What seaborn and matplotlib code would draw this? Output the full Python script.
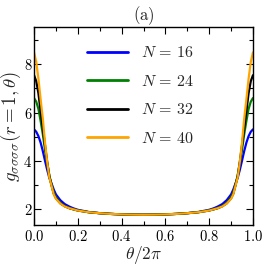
import matplotlib
matplotlib.use("Agg")
import matplotlib.pyplot as plt
import seaborn as sns
import pandas as pd
from matplotlib.ticker import MultipleLocator, FuncFormatter

theta = [0.00, 0.01, 0.02, 0.03, 0.04, 0.05, 0.06, 0.07, 0.08, 0.09, 0.10,
         0.12, 0.14, 0.16, 0.18, 0.20, 0.25, 0.30, 0.35, 0.40, 0.45, 0.50,
         0.55, 0.60, 0.65, 0.70, 0.75, 0.80, 0.82, 0.84, 0.86, 0.88,
         0.90, 0.91, 0.92, 0.93, 0.94, 0.95, 0.96, 0.97, 0.98, 0.99, 1.00]

g_N16 = [5.30, 5.20, 5.02, 4.75, 4.40, 4.00, 3.62, 3.28, 3.05, 2.80, 2.60,
         2.36, 2.20, 2.10, 2.02, 1.96, 1.87, 1.82, 1.79, 1.77, 1.76, 1.755,
         1.76, 1.77, 1.79, 1.82, 1.87, 1.96, 2.02, 2.10, 2.20, 2.36,
         2.60, 2.80, 3.05, 3.28, 3.62, 4.00, 4.40, 4.75, 5.02, 5.20, 5.30]
g_N24 = [6.60, 6.45, 6.15, 5.65, 5.10, 4.45, 3.90, 3.38, 3.00, 2.68, 2.48,
         2.25, 2.12, 2.04, 1.98, 1.94, 1.86, 1.82, 1.79, 1.77, 1.76, 1.755,
         1.76, 1.77, 1.79, 1.82, 1.86, 1.94, 1.98, 2.04, 2.12, 2.25,
         2.48, 2.68, 3.00, 3.38, 3.90, 4.45, 5.10, 5.65, 6.15, 6.45, 6.60]
g_N32 = [7.55, 7.30, 6.80, 6.05, 5.35, 4.65, 3.95, 3.35, 2.97, 2.63, 2.44,
         2.23, 2.11, 2.03, 1.98, 1.93, 1.86, 1.82, 1.79, 1.77, 1.76, 1.755,
         1.76, 1.77, 1.79, 1.82, 1.86, 1.93, 1.98, 2.03, 2.11, 2.23,
         2.44, 2.63, 2.97, 3.35, 3.95, 4.65, 5.35, 6.05, 6.80, 7.30, 7.55]
g_N40 = [8.50, 8.10, 7.40, 6.55, 5.75, 4.75, 3.95, 3.30, 2.95, 2.60, 2.42,
         2.22, 2.10, 2.03, 1.98, 1.93, 1.86, 1.82, 1.79, 1.77, 1.76, 1.755,
         1.76, 1.77, 1.79, 1.82, 1.86, 1.93, 1.98, 2.03, 2.10, 2.22,
         2.42, 2.60, 2.95, 3.30, 3.95, 4.75, 5.75, 6.55, 7.40, 8.10, 8.50]

labels = [r"$N\,=\,16$", r"$N\,=\,24$", r"$N\,=\,32$", r"$N\,=\,40$"]
colors = ["#0000ff", "#008000", "#000000", "#ffa500"]

frames = []
for lab, vals in zip(labels, [g_N16, g_N24, g_N32, g_N40]):
    frames.append(pd.DataFrame({"theta": theta, "g": vals, "N": lab}))
df = pd.concat(frames, ignore_index=True)

sns.set_style("ticks")
plt.rcParams["mathtext.fontset"] = "cm"
plt.rcParams["font.family"] = ["DejaVu Serif"]

fig = plt.figure(figsize=(2.66, 2.65), dpi=100)
ax = fig.add_axes([0.128, 0.151, 0.823, 0.747])

sns.lineplot(data=df, x="theta", y="g", hue="N", palette=colors,
             linewidth=1.6, ax=ax, legend=True)

ax.set_xlim(0, 1)
ax.set_ylim(1.33, 9.55)
ax.xaxis.set_major_locator(MultipleLocator(0.2))
ax.xaxis.set_minor_locator(MultipleLocator(0.1))
ax.yaxis.set_major_locator(MultipleLocator(2))
ax.yaxis.set_minor_locator(MultipleLocator(1))
ax.xaxis.set_major_formatter(FuncFormatter(lambda v, p: f"${v:.1f}$"))
ax.yaxis.set_major_formatter(FuncFormatter(lambda v, p: f"${int(round(v))}$"))
ax.tick_params(which="both", direction="in", top=True, right=True,
               width=0.8, colors="black", labelsize=10.5)
ax.tick_params(axis="x", which="major", pad=3)
ax.tick_params(axis="y", which="major", pad=1.2)
ax.tick_params(which="major", length=5)
ax.tick_params(which="minor", length=3)
for s in ax.spines.values():
    s.set_linewidth(1.0)
    s.set_color("black")

ax.set_xlabel(r"$\theta/2\pi$", fontsize=12.5, labelpad=0)
ax.set_ylabel(r"$g_{\sigma\sigma\sigma\sigma}(r=1,\theta)$", fontsize=13.5, labelpad=0)
ax.set_title("$\\mathrm{(a)}$", fontsize=12, pad=4)

leg = ax.legend(loc="upper left", bbox_to_anchor=(0.175, 0.985), frameon=False,
                fontsize=11.5, handlelength=2.6, labelspacing=0.72, handletextpad=0.8)
for line in leg.get_lines():
    line.set_linewidth(2.0)

fig.savefig("out.png", dpi=100)
